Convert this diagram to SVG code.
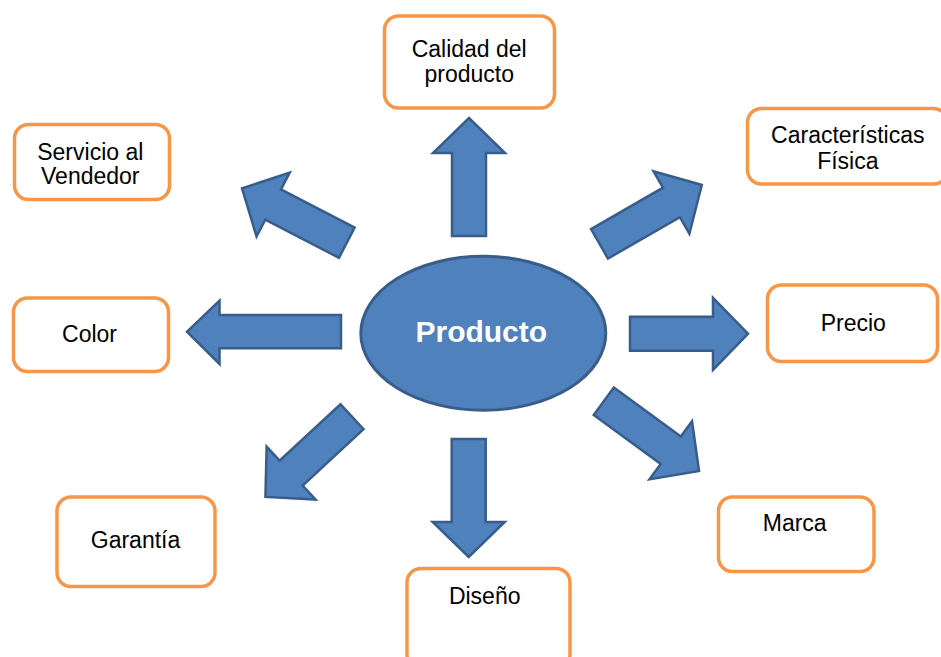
<svg xmlns="http://www.w3.org/2000/svg" width="941" height="657" viewBox="0 0 941 657">
<defs>
<style>
.box{fill:#fff;stroke:#F79646;stroke-width:3.5}
.lbl{font-family:"Liberation Sans",Arial,sans-serif;font-size:23px;fill:#000;text-anchor:middle}
.arr{fill:#4F81BD;stroke:#385D8A;stroke-width:2.5;stroke-linejoin:miter}
</style>
<polygon id="a118" points="0,-17 83,-17 83,-36 118,0 83,36 83,17 0,17"/>
</defs>
<rect width="941" height="657" fill="#fff"/>
<g id="connectors">
<use href="#a118" class="arr" transform="translate(469,236) rotate(-90)"/>
<use href="#a118" class="arr" transform="translate(468.7,439) rotate(90)"/>
<use href="#a118" class="arr" transform="translate(630,333.8)"/>
<polygon class="arr" points="341,315 219.5,315 219.5,300.7 187,331.7 219.5,364 219.5,348.3 341,348.3"/>
<use href="#a118" class="arr" transform="translate(346.8,242.7) rotate(-152.6)"/>
<use href="#a118" class="arr" transform="translate(599.5,243.8) rotate(-29.9)"/>
<use href="#a118" class="arr" transform="translate(603.8,401.3) rotate(36.2)"/>
<use href="#a118" class="arr" transform="translate(352,416.7) rotate(137.2)"/>
</g>
<g id="producto">
<ellipse cx="483.3" cy="333.3" rx="122.5" ry="77" fill="#4F81BD" stroke="#385D8A" stroke-width="3"/>
<text x="481.3" y="341.7" font-family="'Liberation Sans',Arial,sans-serif" font-size="30" font-weight="bold" fill="#fff" text-anchor="middle">Producto</text>
</g>
<g id="calidad">
<rect class="box" x="384.5" y="16" width="170" height="92" rx="14"/>
<text class="lbl" x="469.2" y="56.7">Calidad del</text>
<text class="lbl" x="469.2" y="81.7">producto</text>
</g>
<g id="servicio">
<rect class="box" x="14.5" y="124.5" width="155" height="75" rx="14"/>
<text class="lbl" x="90.3" y="160">Servicio al</text>
<text class="lbl" x="90.3" y="184.3">Vendedor</text>
</g>
<g id="caracteristicas">
<rect class="box" x="747.5" y="108.5" width="200" height="75.5" rx="14"/>
<text class="lbl" x="847.8" y="143.3">Características</text>
<text class="lbl" x="847.8" y="169">Física</text>
</g>
<g id="color">
<rect class="box" x="13.5" y="298" width="155" height="73.5" rx="14"/>
<text class="lbl" x="89.5" y="342.3">Color</text>
</g>
<g id="precio">
<rect class="box" x="767.5" y="285" width="170" height="76.5" rx="14"/>
<text class="lbl" x="853.3" y="330.7">Precio</text>
</g>
<g id="garantia">
<rect class="box" x="57" y="497" width="158" height="89.5" rx="14"/>
<text class="lbl" x="135.5" y="548.3">Garantía</text>
</g>
<g id="marca">
<rect class="box" x="718.5" y="497" width="155.5" height="74.5" rx="14"/>
<text class="lbl" x="794.7" y="531">Marca</text>
</g>
<g id="diseno">
<rect class="box" x="407" y="568.5" width="163" height="100" rx="14"/>
<text class="lbl" x="484.7" y="604.3">Diseño</text>
</g>
</svg>
